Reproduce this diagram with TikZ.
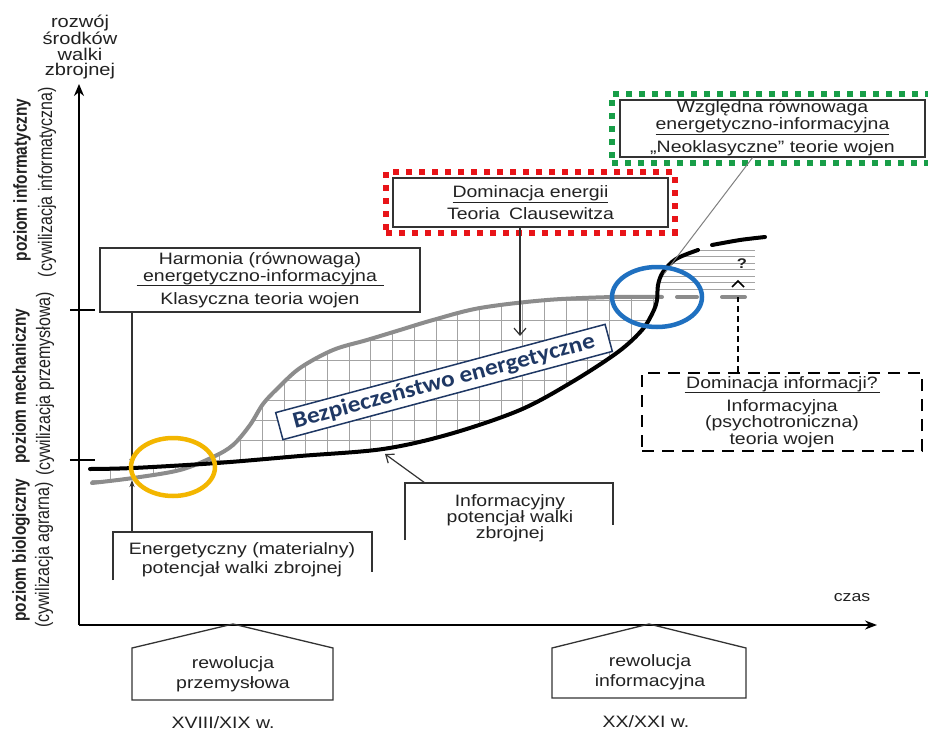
\documentclass[tikz,border=0pt]{standalone}
\usepackage{fontspec}
\setmainfont{Liberation Sans}
\newfontfamily\bxf[FakeStretch=1.18]{Liberation Sans}
\newfontfamily\rtf[FakeStretch=0.82]{Liberation Sans}
\newfontfamily\bzf[FakeStretch=1.1]{Carlito}
\usetikzlibrary{arrows.meta,fit,calc}
\definecolor{txt}{HTML}{222222}
\definecolor{boxc}{HTML}{333333}
\definecolor{curvegrey}{HTML}{8C8C8C}
\definecolor{gridgrey}{HTML}{A3A3A3}
\definecolor{blueC}{RGB}{31,112,192}
\definecolor{yelC}{RGB}{243,182,0}
\definecolor{redF}{RGB}{232,20,24}
\definecolor{greenF}{RGB}{24,158,72}
\definecolor{navy}{RGB}{31,56,100}
\begin{document}
\begin{tikzpicture}[x=1pt,y=-1pt,
 lbl/.style={text=txt,inner sep=0pt,align=center},
 rlbl/.style={text=txt,inner sep=0pt,rotate=90,font=\rtf\fontsize{19.5}{20}\selectfont},
 rlblb/.style={text=txt,inner sep=0pt,rotate=90,font=\rtf\bfseries\fontsize{18.8}{20}\selectfont},
 boxline/.style={draw=boxc,line width=1.3pt},
 gridline/.style={draw=gridgrey,line width=0.9pt},
 greycurve/.style={draw=curvegrey,line width=4pt,line cap=round,line join=round},
 blackcurve/.style={draw=black,line width=4pt,line cap=round,line join=round},
 conn/.style={draw=boxc,line width=1.2pt},
 axisline/.style={draw=black,line width=1.6pt},
 redframe/.style={draw=redF,line width=6pt,dash pattern=on 6pt off 7pt},
 greenframe/.style={draw=greenF,line width=6pt,dash pattern=on 6pt off 7pt},
]
\useasboundingbox (0,0) rectangle (928,733);
\fill[white] (0,0) rectangle (928,733);

% ---- grid between curves
\begin{scope}
 \clip plot[smooth,tension=0.55] coordinates {(92,483) (133,478) (180,470) (213,457) (233,445) (250,425) (263,404) (278,388) (300,368) (333,350) (367,340) (400,330) (433,320) (480,308) (547,300) (613,297) (657,297)}
   -- plot[smooth,tension=0.55] coordinates {(657,300) (653,312) (642,330) (618,352) (572,382) (520,410) (450,434) (383,449) (300,456) (217,463) (133,468) (90,469)} -- cycle;
 \foreach \k in {4,...,30} \draw[gridline] ({\k*21.7+2},230) -- ({\k*21.7+2},500);
 \foreach \gy in {300,320,...,480} \draw[gridline] (80,\gy) -- (670,\gy);
\end{scope}
% ---- horizontal hatching right of black curve
\begin{scope}
 \clip plot[smooth,tension=0.55] coordinates {(657,300) (658,285) (663,272) (676,259) (698,250)} -- (712,245) -- (765,237) -- (765,305) -- cycle;
 \foreach \gy in {250,256.5,...,291} \draw[gridline] (640,\gy) -- (755,\gy);
\end{scope}

% ---- curves
\draw[greycurve] plot[smooth,tension=0.55] coordinates {(92,483) (133,478) (180,470) (213,457) (233,445) (250,425) (263,404) (278,388) (300,368) (333,350) (367,340) (400,330) (433,320) (480,308) (547,300) (613,297) (662,297)};
\draw[greycurve] (677,297) -- (697,297) (722,297) -- (745,297);
\draw[blackcurve] plot[smooth,tension=0.55] coordinates {(90,469) (133,468) (217,463) (300,456) (383,449) (450,434) (520,410) (572,382) (618,352) (642,330) (653,312) (657,300) (658,285) (663,272) (676,259) (698,250)};
\draw[blackcurve] plot[smooth] coordinates {(712,245) (740,240) (765,237)};

% ---- axes
\draw[axisline,-{Stealth[length=12pt,width=10pt]}] (79,625) -- (79,84);
\draw[axisline,-{Stealth[length=12pt,width=9pt]}] (79,625) -- (877,625);
\draw[axisline] (70,310) -- (95,310);
\draw[axisline] (70,460) -- (95,460);

\node[lbl,font=\bxf\fontsize{17}{15.7}\selectfont] (yax) at (80,47) {rozwój\\środków\\walki\\zbrojnej};
\node[lbl,font=\bxf\fontsize{15}{16}\selectfont] (czas) at (852,598) {czas};

\node[rlblb] (pinf) at (22,180) {poziom informatyczny};
\node[rlbl] (cinf) at (47,182) {(cywilizacja informatyczna)};
\node[rlblb] (pmech) at (21,386) {poziom mechaniczny};
\node[rlbl] (cmech) at (45,384) {(cywilizacja przemysłowa)};
\node[rlblb] (pbio) at (21,550) {poziom biologiczny};
\node[rlbl] (cbio) at (44,555) {(cywilizacja agrarna)};

% ---- Harmonia box
\node[lbl,boxline,fill=white,minimum width=320pt,minimum height=64pt,font=\bxf\fontsize{16.5}{14}\selectfont] (harm) at (260,280)
 {Harmonia (równowaga)\\energetyczno-informacyjna\\[-9pt]\rule{247pt}{1pt}\\[4pt]Klasyczna teoria wojen};

% ---- Energetyczny box (open)
\node[lbl,font=\bxf\fontsize{16.5}{19}\selectfont] (energ) at (242,559.5) {Energetyczny (materialny)\\potencjał walki zbrojnej};
\draw[boxline] (113,580) -- (113,532) -- (372,532) -- (372,572);
\coordinate (energtop) at (132,532);
\coordinate (blackA) at (132,466);
\coordinate (greyA) at (132,480);
\draw[conn,-{Stealth[length=7pt,width=5pt]}] (harm.south -| blackA) -- (blackA);
\draw[conn,-{Stealth[length=7pt,width=5pt]}] (energtop) -- (greyA);

% ---- Informacyjny box (open)
\node[lbl,font=\bxf\fontsize{16.5}{16}\selectfont] (inform) at (510,518) {Informacyjny\\potencjał walki\\zbrojnej};
\draw[boxline] (405,540) -- (405,483) -- (613,483) -- (613,525);
\coordinate (infotop) at (425,483);
\coordinate (blackB) at (385,454);
\draw[conn,-{Straight Barb[length=7pt,width=11pt]}] (infotop) -- (blackB);

% ---- Dominacja energii
\node[lbl,boxline,fill=white,minimum width=275pt,minimum height=49pt,font=\bxf\fontsize{16.5}{22}\selectfont] (domE) at (530.5,202.5)
 {\underline{Dominacja energii}\\Teoria\hspace{9pt}Clausewitza};
\node[redframe,fit=(domE),inner xsep=6pt,inner ysep=5pt] (redbox) {};
\coordinate (domEtip) at (520,336);
\draw[conn,-{Straight Barb[length=7pt,width=12pt]}] ($(domE.south)+(-10.5,0)$) -- (domEtip);

% ---- Wzgledna
\node[lbl,boxline,fill=white,minimum width=305pt,minimum height=57pt,font=\bxf\fontsize{16.5}{15}\selectfont] (wzg) at (772.5,128.5)
 {Względna równowaga\\\underline{energetyczno-informacyjna}\\[5pt]„Neoklasyczne” teorie wojen};
\node[greenframe,fit=(wzg),inner xsep=7pt,inner ysep=5pt] (greenbox) {};
\coordinate (neoEnd) at (664,274);
\draw[draw=gray,line width=1pt] ($(wzg.south)+(-20,0)$) -- (neoEnd);

% ---- Dominacja informacji
\node[lbl,draw=black,line width=2.6pt,dash pattern=on 12pt off 8pt,fill=white,minimum width=280pt,minimum height=78pt,font=\bxf\fontsize{16.5}{15}\selectfont] (dinf) at (782,412)
 {Dominacja informacji?\\[-10pt]\rule{195pt}{1pt}\\[3pt]Informacyjna\\(psychotroniczna)\\teoria wojen\hspace*{0pt}};
\coordinate (qtop) at (738,297);
\draw[draw=black,line width=1.5pt,dash pattern=on 6pt off 4pt] (dinf.north -| qtop) -- (qtop);
\draw[draw=black,line width=1.5pt] (732,287) -- (738,281) -- (744,287);
\node[lbl,font=\bxf\bfseries\fontsize{14}{14}\selectfont] (qmark) at (742,264) {?};

% ---- ellipses
\draw[yelC,line width=4.5pt] (173,467) ellipse [x radius=42pt,y radius=29pt];
\draw[blueC,line width=4.5pt] (657,297) ellipse [x radius=45pt,y radius=30pt];

% ---- Bezpieczenstwo label
\node[draw=navy,line width=1.5pt,fill=white,rotate=15,minimum width=341pt,minimum height=28pt,inner sep=0pt,text=navy,font=\bzf\bfseries\fontsize{23}{23}\selectfont] (bez) at (444,382) {Bezpieczeństwo energetyczne};

% ---- bottom pentagons
\draw[boxline] (132,700) -- (132,648) -- (233,624) -- (333,648) -- (333,700) -- cycle;
\draw[boxline] (552,698) -- (552,648) -- (649,624) -- (746,648) -- (746,698) -- cycle;
\node[lbl,font=\bxf\fontsize{16.5}{20}\selectfont] (rprz) at (233,674) {rewolucja\\przemysłowa};
\node[lbl,font=\bxf\fontsize{16.5}{20}\selectfont] (rinf) at (650,672) {rewolucja\\informacyjna};
\node[lbl,font=\bxf\fontsize{16.5}{20}\selectfont] (c18) at (223,723) {XVIII/XIX w.};
\node[lbl,font=\bxf\fontsize{16.5}{20}\selectfont] (c20) at (646,722) {XX/XXI w.};
\end{tikzpicture}
\end{document}
